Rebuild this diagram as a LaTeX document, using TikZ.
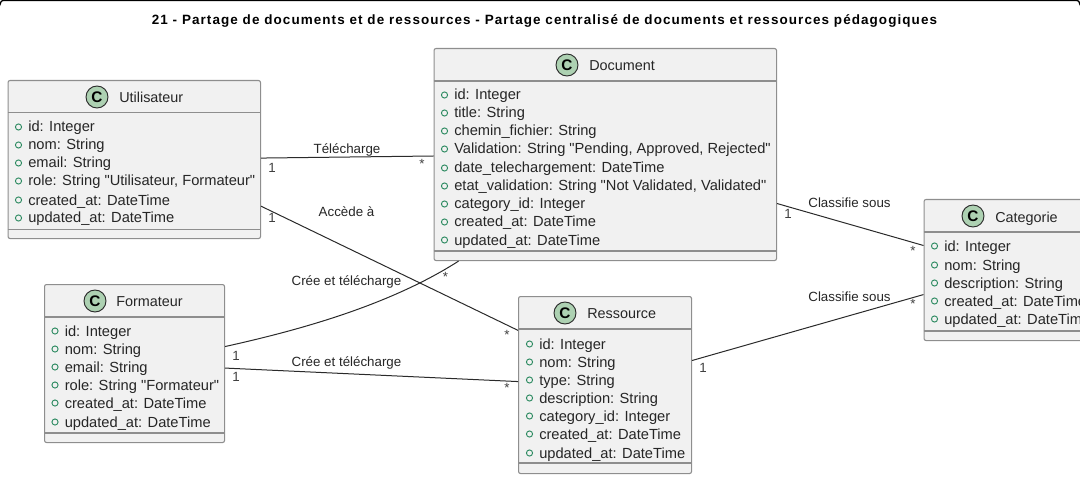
\documentclass[tikz,border=0pt]{standalone}
\usepackage{fontspec}
\setmainfont{Liberation Sans}[Ligatures=TeXOff]
\usepackage{tikz}
\definecolor{boxfill}{HTML}{F1F1F1}
\definecolor{boxline}{HTML}{8E8E8E}
\definecolor{linkline}{HTML}{2A2A2A}
\definecolor{spotfill}{HTML}{ADD1B2}
\definecolor{memberdot}{HTML}{2E8B62}
\tikzset{
  classbox/.style={draw=boxline,fill=boxfill,rounded corners=1.5pt,line width=0.8pt,inner sep=0pt,anchor=north west},
  spot/.style={circle,draw=linkline,fill=spotfill,line width=0.7pt,minimum size=16.5pt,inner sep=0pt,font=\fontsize{11.5}{12}\selectfont\bfseries},
  classname/.style={anchor=base west,inner sep=0pt,yshift=-4pt,text=black!85,font=\fontsize{10.8}{12}\selectfont},
  member/.style={anchor=base west,inner sep=0pt,yshift=-3.75pt,text=black!85,font=\fontsize{11}{12}\selectfont},
  memberspot/.style={circle,draw=memberdot,line width=0.7pt,minimum size=4.6pt,inner sep=0pt},
  linktext/.style={anchor=base,inner sep=0pt,text=black!85,font=\fontsize{10}{11}\selectfont},
  multi/.style={inner sep=0pt,text=black!75,font=\fontsize{10}{11}\selectfont},
  link/.style={draw=linkline,line width=0.75pt}
}
% #1 name, #2 left, #3 top, #4 right, #5 bottom, #6 head line, #7 foot line, #8 spot x
\newcommand{\classframe}[8]{
  \node[classbox,minimum width=(#4-#2)*0.75pt,minimum height=(#5-#3)*0.75pt] (#1) at (#2,#3) {};
  \draw[boxline,line width=0.8pt] (#1.west |- 0,#6) -- (#1.east |- 0,#6);
  \draw[boxline,line width=0.8pt] (#1.west |- 0,#7) -- (#1.east |- 0,#7);
  \node[spot] (#1spot) at (#8,#3+17) {C};
}
\begin{document}
\begin{tikzpicture}[x=0.75pt,y=-0.75pt]
  \useasboundingbox (0,0) rectangle (1080,477);
  \clip (0,0) rectangle (1080,477);
  \draw[black,line width=1pt,rounded corners=2pt] (0.5,3) -- (0.5,0.5) -- (1079.5,0.5) -- (1079.5,3);
  \node[inner sep=0pt,font=\fontsize{10.1}{12}\selectfont\addfontfeature{LetterSpace=8}\bfseries] (title) at (544.5,21) {21 - Partage de documents et de ressources - Partage centralisé de documents et ressources pédagogiques};
  % classes
  \classframe{usr}{7.5}{80}{260}{238}{112.5}{229.5}{97}
  \node[classname] (usrname) at (119,97) {Utilisateur};
  \foreach \y/\t [count=\i] in {127/id: Integer,145/nom: String,163/email: String,181/role: String "Utilisateur{,} Formateur",200/created\_at: DateTime,218/updated\_at: DateTime}{
    \node[memberspot] (usrdot\i) at (18.5,\y) {};
    \node[member] (usrm\i) at (28,\y) {\t};
  }
  \classframe{doc}{433.5}{48}{776}{260}{81}{251}{567}
  \node[classname] (docname) at (589,65) {Document};
  \foreach \y/\t [count=\i] in {95/id: Integer,113/title: String,131/chemin\_fichier: String,149/Validation: String "Pending{,} Approved{,} Rejected",168/date\_telechargement: DateTime,186/etat\_validation: String "Not Validated{,} Validated",204/category\_id: Integer,222/created\_at: DateTime,240/updated\_at: DateTime}{
    \node[memberspot] (docdot\i) at (444.5,\y) {};
    \node[member] (docm\i) at (454,\y) {\t};
  }
  \classframe{fmt}{44}{284}{224}{442}{317}{433}{95}
  \node[classname] (fmtname) at (116,301) {Formateur};
  \foreach \y/\t [count=\i] in {331/id: Integer,349/nom: String,367/email: String,385/role: String "Formateur",403/created\_at: DateTime,422/updated\_at: DateTime}{
    \node[memberspot] (fmtdot\i) at (55,\y) {};
    \node[member] (fmtm\i) at (64.5,\y) {\t};
  }
  \classframe{res}{518}{296}{691}{473}{329}{463}{565}
  \node[classname] (resname) at (587,313) {Ressource};
  \foreach \y/\t [count=\i] in {344/id: Integer,362/nom: String,380/type: String,398/description: String,416/category\_id: Integer,434/created\_at: DateTime,453/updated\_at: DateTime}{
    \node[memberspot] (resdot\i) at (529.5,\y) {};
    \node[member] (resm\i) at (539,\y) {\t};
  }
  \classframe{cat}{923.5}{199}{1100}{340}{232}{331}{973}
  \node[classname] (catname) at (995,217) {Categorie};
  \foreach \y/\t [count=\i] in {246/id: Integer,265/nom: String,283/description: String,301/created\_at: DateTime,319/updated\_at: DateTime}{
    \node[memberspot] (catdot\i) at (934.5,\y) {};
    \node[member] (catm\i) at (944,\y) {\t};
  }
  % links
  \draw[link] ([yshift=1.1pt]usr.east) -- ([yshift=-1.1pt]doc.west);
  \draw[link] ([yshift=-35pt]usr.east) -- ([yshift=41pt]res.west);
  \draw[link] ([yshift=12.75pt]fmt.east) .. controls (300,330) and (390,305) .. ([xshift=-110pt]doc.south);
  \draw[link] ([yshift=-3.4pt]fmt.east) -- ([yshift=2.6pt]res.west);
  \draw[link] ([yshift=-36.75pt]doc.east) -- ([yshift=18.4pt]cat.west);
  \draw[link] ([yshift=18.4pt]res.east) -- ([yshift=-18.4pt]cat.west);
  % labels
  \node[linktext] (lab1) at (347,154) {Télécharge};
  \node[linktext] (lab2) at (346.5,216) {Accède à};
  \node[linktext] (lab3) at (346.5,285.7) {Crée et télécharge};
  \node[linktext] (lab4) at (346.5,366.7) {Crée et télécharge};
  \node[linktext] (lab5) at (849.5,207.7) {Classifie sous};
  \node[linktext] (lab6) at (849.5,301) {Classifie sous};
  \foreach \n/\x/\y/\t in {a/272/168/1,b/422/164/*,c/272/218/1,d/507/335/*,e/236/356/1,f/236/377/1,g/445.5/276.5/*,h/507/388/*,i/788/214/1,j/913/251/*,k/703/368/1,l/913/304/*}{
    \node[multi] (multi\n) at (\x,\y) {\t};
  }
\end{tikzpicture}
\end{document}
